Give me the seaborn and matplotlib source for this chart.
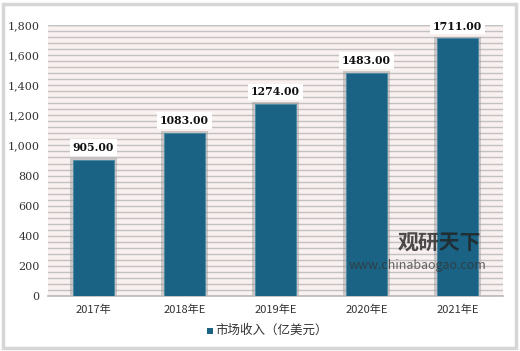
import matplotlib
matplotlib.use("Agg")
import matplotlib.pyplot as plt
import seaborn as sns
import numpy as np
import pandas as pd
from matplotlib.patches import Rectangle

categories = ["2017年", "2018年E", "2019年E", "2020年E", "2021年E"]
values = [905.00, 1083.00, 1274.00, 1483.00, 1711.00]
series_name = "市场收入（亿美元）"
yticks = [0, 200, 400, 600, 800, 1000, 1200, 1400, 1600, 1800]

sns.set_theme(style="white")
plt.rcParams['font.family'] = ['Noto Sans CJK SC', 'DejaVu Sans']

W, H = 520, 351
fig = plt.figure(figsize=(W / 100, H / 100), dpi=100)
fig.patch.set_facecolor("white")
# outer border
fig.patches.append(Rectangle((3 / W, 3 / H), 1 - 7 / W, 1 - 7 / H, transform=fig.transFigure,
                             fill=False, edgecolor="#d6d6d6", linewidth=2.5, zorder=0))

ax = fig.add_axes([48 / W, 1 - 296 / H, 455 / W, 271 / H])
ax.set_facecolor("#f9f0f0")

df = pd.DataFrame({"cat": categories, "val": values})
bar_color = "#1b6384"
sns.barplot(data=df, x="cat", y="val", color=bar_color, width=0.44, ax=ax,
            saturation=1, zorder=3, edgecolor="#4a88a4", linewidth=0.6)

# shadows
for p in list(ax.patches):
    x, w, h = p.get_x(), p.get_width(), p.get_height()
    ax.add_patch(Rectangle((x - 0.035, 0), w + 0.07, h + 12, facecolor="#8a8a8a",
                           alpha=0.4, zorder=2, linewidth=0))

ax.set_ylim(0, 1800)
ax.set_xlim(-0.5, 4.5)
# grid lines every 40
for yv in np.arange(0, 1801, 40):
    ax.axhline(yv, color="#c2c2c2", linewidth=1.0, zorder=1)
ax.axhline(1800, color="#c2c2c2", linewidth=1.0, zorder=1)

ax.set_yticks(yticks)
ax.set_yticklabels([f"{v:,}" for v in yticks], fontsize=8, family=['DejaVu Serif'], color="#333333")
ax.set_xticklabels(categories, fontsize=8, color="#333333")
ax.tick_params(axis="both", length=0, pad=6)
ax.set_xlabel("")
ax.set_ylabel("")
for s in ["top", "right", "left"]:
    ax.spines[s].set_visible(False)
ax.spines["bottom"].set_color("#bbbbbb")

for i, v in enumerate(values):
    ax.text(i, v + 45, f"{v:.2f}", ha="center", va="bottom", fontsize=7.8, fontweight="bold",
            family=['DejaVu Serif'], color="#111111", zorder=5,
            bbox=dict(facecolor="white", edgecolor="none", pad=2.0))

# watermark
fig.text(398 / W, 1 - 243 / H, "观研天下", fontsize=15, fontweight="bold", color="#222222",
         alpha=0.8, ha="left", va="center")
fig.text(349 / W, 1 - 266 / H, "www.chinabaogao.com", fontsize=9, color="#333333",
         alpha=0.75, ha="left", va="center")

# legend
fig.patches.append(Rectangle((207 / W, 1 - 334 / H), 6 / W, 6 / H, transform=fig.transFigure,
                             facecolor=bar_color, edgecolor="none"))
fig.text(215 / W, 1 - 330 / H, series_name, fontsize=9, color="#333333", ha="left", va="center")

fig.savefig("out.png", dpi=100)
